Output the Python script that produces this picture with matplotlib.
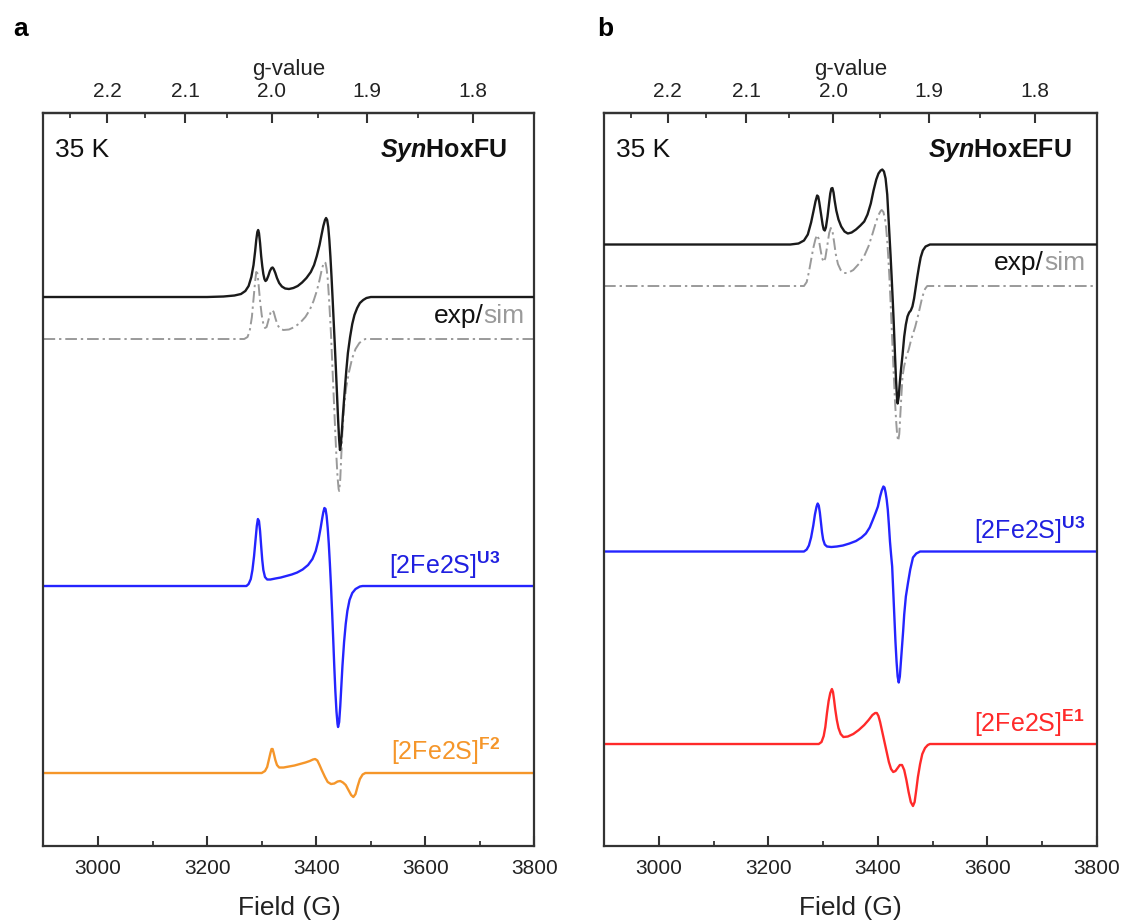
import matplotlib
matplotlib.use('Agg')
from matplotlib import pyplot as plt
from matplotlib.ticker import FixedLocator, FormatStrFormatter

plt.rcParams['font.family'] = ['Liberation Sans', 'DejaVu Sans']
plt.rcParams['mathtext.fontset'] = 'custom'
plt.rcParams['mathtext.rm'] = 'Liberation Sans'
plt.rcParams['mathtext.bf'] = 'Liberation Sans:bold'
plt.rcParams['mathtext.sf'] = 'Liberation Sans:italic:bold'

# microwave constant h*nu/muB in G (g = C / B)
C_FIELD = 6636.0

# ---- panel a: SynHoxFU ----  (field in G, intensity in a.u.)
a_exp_field = [2900, 3200, 3230, 3250, 3262, 3270, 3276, 3281, 3285, 3288, 3290,
               3292, 3293.5, 3295, 3297, 3299, 3301, 3303, 3305, 3307, 3309, 3312,
               3315, 3318, 3320, 3322, 3325, 3328, 3332, 3337, 3343, 3350, 3358,
               3366, 3374, 3382, 3390, 3396, 3401, 3406, 3410, 3413, 3416, 3418,
               3420, 3422, 3424, 3426, 3428, 3430, 3432, 3434, 3436, 3438, 3440,
               3442, 3443.5, 3445, 3447, 3449, 3452, 3455, 3458, 3462, 3466, 3470,
               3475, 3480, 3486, 3492, 3500, 3800]
a_exp_int = [0, 0, 0.5, 1.5, 3, 6, 11, 20, 32, 46, 57,
             65, 67, 64, 54, 41, 31, 23, 18, 16, 17, 21,
             26, 29, 29.5, 28, 24, 19, 14, 10.5, 8.5, 8, 9,
             11, 14.5, 19, 25, 32, 41, 52, 63, 71, 77, 79,
             77, 70, 57, 40, 20, -2, -25, -48, -72, -97, -122,
             -143, -153, -148, -134, -117, -95, -74, -56, -40, -27, -18,
             -11, -6, -3, -1, 0, 0]

a_sim_field = [2900, 3268, 3274, 3278, 3282, 3285, 3288, 3290, 3292, 3294, 3297,
               3300, 3303, 3306, 3309, 3312, 3316, 3319, 3322, 3325, 3329, 3334,
               3340, 3350, 3360, 3370, 3380, 3388, 3395, 3401, 3406, 3410, 3413,
               3415, 3417, 3419, 3421, 3423, 3425, 3427, 3429, 3431, 3433, 3435,
               3437, 3439, 3441, 3442, 3444, 3446, 3448, 3451, 3455, 3460, 3466,
               3472, 3479, 3486, 3490, 3800]
a_sim_int = [0, 0, 2, 8, 22, 40, 58, 67, 66, 56, 38,
             24, 15, 11, 12, 18, 26, 29, 27, 21, 14, 10,
             9, 9.5, 12, 16, 22, 29, 38, 48, 59, 69, 75,
             77, 76, 70, 60, 44, 25, 5, -20, -45, -70, -95,
             -118, -138, -150, -152, -140, -115, -92, -68, -48, -33, -19,
             -10, -4, -1, 0, 0]

a_u3_field = [2900, 3272, 3276, 3280, 3283, 3286, 3289, 3291, 3293, 3295, 3297,
              3299, 3301, 3303, 3306, 3310, 3316, 3325, 3335, 3345, 3355, 3365,
              3375, 3385, 3393, 3399, 3404, 3408, 3411, 3413, 3415, 3417, 3419,
              3421, 3423, 3425, 3427, 3429, 3431, 3433, 3435, 3437, 3439, 3440,
              3442, 3444, 3446, 3448, 3451, 3454, 3457, 3461, 3466, 3472, 3480,
              3485, 3800]
a_u3_int = [0, 0, 2, 7, 16, 30, 48, 60, 67, 65, 55,
            40, 26, 16, 9, 6.5, 6.5, 7.5, 8.5, 10, 11.5, 13.5,
            16.5, 21, 27, 35, 46, 58, 68, 74, 78, 77, 70,
            58, 42, 22, 0, -25, -52, -80, -105, -125, -138, -141,
            -136, -120, -100, -80, -56, -38, -25, -14, -7, -3, -0.5,
            0, 0]

a_f2_field = [2900, 3300, 3306, 3310, 3313, 3316, 3318, 3320, 3322, 3325, 3328,
              3332, 3340, 3350, 3360, 3370, 3380, 3388, 3394, 3398, 3402, 3406,
              3410, 3416, 3421, 3427, 3433, 3439, 3444, 3449, 3454, 3459, 3464,
              3468, 3472, 3476, 3480, 3485, 3490, 3800]
a_f2_int = [0, 0, 2, 6, 13, 20, 24, 24, 20, 13, 8,
            5.5, 5.5, 6.5, 7.5, 9, 10.5, 12, 13.5, 14, 12.5, 8,
            3, -4, -9, -11, -10.5, -8.5, -8, -9.5, -12, -17, -22,
            -24, -21, -13, -6, -1.5, 0, 0]

# ---- panel b: SynHoxEFU ----
b_exp_field = [2900, 3240, 3255, 3265, 3272, 3278, 3283, 3286, 3289, 3291, 3293,
               3296, 3299, 3301, 3303, 3305, 3308, 3311, 3313, 3315, 3317, 3319,
               3321, 3324, 3328, 3333, 3339, 3345, 3352, 3360, 3368, 3375, 3381,
               3387, 3392, 3397, 3401, 3405, 3408, 3411, 3414, 3417, 3419, 3421,
               3423, 3425, 3427, 3429, 3431, 3433, 3435, 3436, 3438, 3440, 3442,
               3445, 3448, 3451, 3454, 3457, 3460, 3463, 3466, 3469, 3472, 3475,
               3478, 3482, 3487, 3495, 3800]
b_exp_int = [0, 0, 1, 4, 10, 22, 35, 43, 49, 48, 42,
             31, 20, 15, 14, 17, 28, 42, 51, 56, 56.5, 52,
             44, 34, 25, 18, 13, 11, 12, 15, 19, 23, 30,
             41, 54, 65, 71, 74, 75, 73, 66, 50, 30, 10,
             -10, -32, -55, -80, -108, -135, -155, -159, -152, -138, -126,
             -110, -92, -80, -72, -68, -66, -62, -54, -43, -32, -22,
             -13, -6, -2, 0, 0]

b_sim_field = [2900, 3265, 3270, 3274, 3278, 3282, 3286, 3289, 3292, 3295, 3298,
               3301, 3304, 3308, 3311, 3314, 3317, 3320, 3323, 3327, 3332, 3338,
               3345, 3355, 3365, 3375, 3383, 3390, 3396, 3401, 3405, 3407, 3410,
               3413, 3415, 3417, 3419, 3421, 3423, 3425, 3427, 3429, 3431, 3433,
               3435, 3437, 3439, 3441, 3443, 3445, 3448, 3452, 3456, 3461, 3468,
               3474, 3481, 3486, 3490, 3800]
b_sim_int = [0, 0, 4, 14, 26, 38, 47, 51, 47, 37, 28,
             24, 28, 42, 53, 58, 55, 44, 32, 22, 16, 13,
             13, 16, 22, 30, 40, 52, 63, 71, 75, 76, 74,
             67, 58, 45, 28, 8, -15, -40, -65, -90, -113, -133,
             -148, -155, -148, -128, -108, -90, -80, -70, -64, -53, -41,
             -28, -11, -3, 0, 0]

b_u3_field = [2900, 3265, 3270, 3274, 3278, 3282, 3285, 3288, 3290, 3292, 3294,
              3296, 3298, 3300, 3303, 3307, 3315, 3325, 3336, 3348, 3360, 3370,
              3378, 3385, 3391, 3396, 3400, 3404, 3407, 3410, 3412, 3414, 3416,
              3418, 3420, 3422, 3424, 3426, 3428, 3430, 3432, 3434, 3436, 3438,
              3440, 3442, 3444, 3446, 3448, 3451, 3455, 3459, 3464, 3470, 3477,
              3800]
b_u3_int = [0, 0, 2, 6, 14, 26, 37, 45, 48, 46, 39,
            29, 19, 12, 7, 5, 4.5, 5, 6, 8, 10.5, 14,
            18, 24, 32, 39, 45, 55, 61, 65, 64, 59, 52,
            42, 27, 10, -3, -15, -40, -65, -90, -110, -125, -131,
            -125, -110, -95, -80, -63, -45, -31, -18, -6, -2, 0,
            0]

b_e1_field = [2900, 3292, 3297, 3301, 3304, 3307, 3310, 3313, 3316, 3318, 3320,
              3322, 3325, 3328, 3332, 3337, 3345, 3355, 3365, 3375, 3383, 3390,
              3395, 3398, 3401, 3404, 3408, 3412, 3416, 3420, 3424, 3428, 3432,
              3436, 3440, 3444, 3448, 3452, 3456, 3460, 3464, 3467, 3470, 3473,
              3477, 3481, 3486, 3491, 3495, 3800]
b_e1_int = [0, 0, 2, 8, 17, 31, 43, 51, 55, 52, 44,
            35, 24, 16, 10, 7, 7.5, 10, 14, 19, 24, 29,
            31, 31, 28, 22, 12, 2, -8, -18, -25, -28, -27,
            -24, -21, -21, -26, -36, -48, -58, -62, -58, -46, -33,
            -20, -10, -4, -1, 0, 0]

g_major = [2.2, 2.1, 2.0, 1.9, 1.8]
g_minor = [2.25, 2.15, 2.05, 1.95, 1.85]

EXP = '#1a1a1a'
SIM = '#9a9a9a'
BLUE = '#2424ff'
ORANGE = '#f5962a'
RED = '#ff2a2a'

fig = plt.figure(figsize=(11.24, 9.24), dpi=100)
ax_a = fig.add_axes([0.0387, 0.0844, 0.4368, 0.7933])
ax_b = fig.add_axes([0.5374, 0.0844, 0.4386, 0.7933])


def shift(vals, base):
    return [base + v for v in vals]


def style_axes(ax):
    ax.set_xlim(2900, 3800)
    ax.set_ylim(0, 733)
    ax.set_yticks([])
    for s in ax.spines.values():
        s.set_linewidth(1.6)
        s.set_color('#333333')
    ax.xaxis.set_major_locator(FixedLocator([3000, 3200, 3400, 3600, 3800]))
    ax.xaxis.set_minor_locator(FixedLocator([3100, 3300, 3500, 3700]))
    ax.tick_params(axis='x', which='both', direction='in', top=False,
                   labelsize=15, pad=9, colors='#333333', labelcolor='#222222')
    ax.tick_params(axis='x', which='major', length=7, width=1.5)
    ax.tick_params(axis='x', which='minor', length=3.5, width=1.3)
    ax.set_xlabel('Field (G)', fontsize=19, labelpad=13, color='#222222')

    sec = ax.secondary_xaxis('top', functions=(lambda b: C_FIELD / b,
                                               lambda g: C_FIELD / g))
    sec.xaxis.set_major_locator(FixedLocator(g_major))
    sec.xaxis.set_minor_locator(FixedLocator(g_minor))
    sec.xaxis.set_major_formatter(FormatStrFormatter('%.1f'))
    sec.tick_params(which='both', direction='in', labelsize=15, pad=9,
                    colors='#333333', labelcolor='#222222')
    sec.tick_params(which='major', length=7, width=1.5)
    sec.tick_params(which='minor', length=3.5, width=1.3)
    sec.spines['top'].set_linewidth(1.6)
    sec.spines['top'].set_color('#333333')
    sec.set_xlabel('g-value', fontsize=16, labelpad=5, color='#222222')


def exp_sim_label(ax, x, y):
    t = ax.text(x, y, 'sim', color=SIM, fontsize=19, ha='right', va='baseline',
                transform=ax.transAxes)
    ax.annotate('exp/', xy=(0, 0), xycoords=t, ha='right', va='bottom',
                color='#111111', fontsize=19)


# panel a
ax = ax_a
ax.plot(a_exp_field, shift(a_exp_int, 549), color=EXP, lw=1.7, zorder=3)
ax.plot(a_sim_field, shift(a_sim_int, 507), color=SIM, lw=1.4,
        dashes=(6, 2, 1.2, 2), zorder=2)
ax.plot(a_u3_field, shift(a_u3_int, 260), color=BLUE, lw=1.7)
ax.plot(a_f2_field, shift(a_f2_int, 73), color=ORANGE, lw=1.7)
style_axes(ax)
ax.text(0.024, 0.940, '35 K', fontsize=19, transform=ax.transAxes,
        va='baseline', ha='left', color='#111111')
ax.text(0.944, 0.940, r'$\mathsf{Syn}$HoxFU', fontsize=18, fontweight='bold',
        transform=ax.transAxes, va='baseline', ha='right', color='#111111')
exp_sim_label(ax, 0.98, 0.7135)
ax.text(0.93, 0.371, r'[2Fe2S]$^{\mathbf{U3}}$', fontsize=18, color='#2020e0',
        transform=ax.transAxes, va='baseline', ha='right')
ax.text(0.93, 0.117, r'[2Fe2S]$^{\mathbf{F2}}$', fontsize=18, color=ORANGE,
        transform=ax.transAxes, va='baseline', ha='right')

# panel b
ax = ax_b
ax.plot(b_exp_field, shift(b_exp_int, 601.5), color=EXP, lw=1.7, zorder=3)
ax.plot(b_sim_field, shift(b_sim_int, 560), color=SIM, lw=1.4,
        dashes=(6, 2, 1.2, 2), zorder=2)
ax.plot(b_u3_field, shift(b_u3_int, 294.5), color=BLUE, lw=1.7)
ax.plot(b_e1_field, shift(b_e1_int, 102), color=RED, lw=1.7)
style_axes(ax)
ax.text(0.024, 0.940, '35 K', fontsize=19, transform=ax.transAxes,
        va='baseline', ha='left', color='#111111')
ax.text(0.949, 0.940, r'$\mathsf{Syn}$HoxEFU', fontsize=18, fontweight='bold',
        transform=ax.transAxes, va='baseline', ha='right', color='#111111')
exp_sim_label(ax, 0.976, 0.786)
ax.text(0.976, 0.419, r'[2Fe2S]$^{\mathbf{U3}}$', fontsize=18, color='#2020e0',
        transform=ax.transAxes, va='baseline', ha='right')
ax.text(0.976, 0.156, r'[2Fe2S]$^{\mathbf{E1}}$', fontsize=18, color=RED,
        transform=ax.transAxes, va='baseline', ha='right')

fig.text(0.012, 0.961, 'a', fontsize=19, fontweight='bold', va='baseline')
fig.text(0.5316, 0.961, 'b', fontsize=19, fontweight='bold', va='baseline')

plt.savefig('out.png', dpi=100)
